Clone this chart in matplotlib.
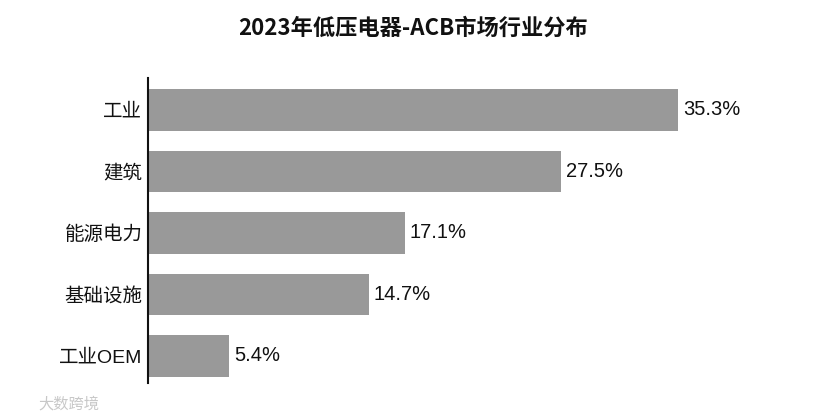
import matplotlib
matplotlib.use('Agg')
import matplotlib.pyplot as plt

plt.rcParams['font.family'] = ['Liberation Sans', 'Noto Sans CJK SC', 'DejaVu Sans']

categories = ['工业', '建筑', '能源电力', '基础设施', '工业OEM']
shares = [35.3, 27.5, 17.1, 14.7, 5.4]
value_labels = ['35.3%', '27.5%', '17.1%', '14.7%', '5.4%']
title = '2023年低压电器-ACB市场行业分布'

fig = plt.figure(figsize=(8.31, 4.19), dpi=100)
ax = fig.add_axes([148/831, 36/419, 600/831, 305/419])

ypos = list(range(len(categories)))
ax.barh(ypos, shares, height=0.67, color='#999999')

for y, v, lab in zip(ypos, shares, value_labels):
    ax.text(v + 0.35, y, lab, va='center', ha='left', fontsize=14.5, color='#111111')

ax.set_xlim(0, 40)
ax.set_ylim(4.44, -0.52)
ax.set_yticks(ypos)
ax.set_yticklabels(categories, fontsize=14, color='#111111')
ax.tick_params(axis='y', length=0, pad=4)
ax.set_xticks([])
for s in ['top', 'right', 'bottom']:
    ax.spines[s].set_visible(False)
ax.spines['left'].set_linewidth(1.5)
ax.spines['left'].set_color('#111111')

fig.text(413/831, 1 - 28/419, title, ha='center', va='center',
         fontsize=16, fontweight='bold', color='#111111',
         family=['Noto Sans CJK SC', 'DejaVu Sans'])

fig.text(38/831, 1 - 404/419, '大数跨境', ha='left', va='center',
         fontsize=11, color='#c8c8c8', family=['Noto Sans CJK SC'])

fig.savefig('out.png', dpi=100)
